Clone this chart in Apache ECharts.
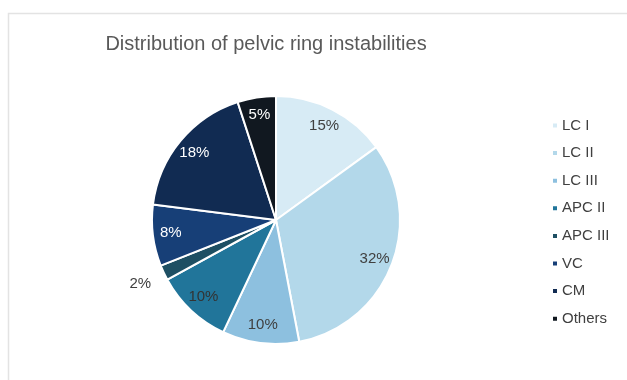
<!DOCTYPE html>
<html><head><meta charset="utf-8">
<script src="https://cdn.jsdelivr.net/npm/echarts@6/dist/echarts.min.js"></script>
<style>html,body{margin:0;padding:0;background:#fff;}#c{width:627px;height:380px;}</style>
</head><body><div id="c"></div>
<script>
const titleText = 'Distribution of pelvic ring instabilities';
const categories = ['LC I','LC II','LC III','APC II','APC III','VC','CM','Others'];
const values = [15, 32, 10, 10, 2, 8, 18, 5];
const colors = ['#d7ebf5','#b3d8ea','#8dc0df','#21759a','#1e4f63','#173f77','#112b52','#111820'];
const labelColors = ['#404040','#404040','#404040','#333333','#404040','#ffffff','#ffffff','#ffffff'];

const chart = echarts.init(document.getElementById('c'), null, {renderer:'canvas'});
const font = '"Liberation Sans", Arial, sans-serif';
const center = [276, 220];
const R = 124;

const mainData = categories.map((n,i)=>({name:n, value:values[i], itemStyle:{color:colors[i]}}));
const innerData = categories.map((n,i)=>({name:n, value:values[i],
  label:{show: values[i] >= 3, color: labelColors[i]}}));
const outerData = categories.map((n,i)=>({name:n, value:values[i],
  label:{show: values[i] < 3, color: '#404040'}}));
const legendData = categories.map((n,i)=>({name:n, itemStyle:{color:colors[i]}}));

chart.setOption({
  animation:false,
  graphic:[{type:'polyline', shape:{points:[[8.5,380],[8.5,13.5],[627,13.5]]}, style:{stroke:'#e3e3e3', lineWidth:1.5, fill:null}, silent:true}],
  title:{text:titleText, left:261, textAlign:'center', top:29,
    textStyle:{fontFamily:font, fontSize:20, fontWeight:'normal', color:'#595959'}},
  legend:{orient:'vertical', left:546, top:113, itemWidth:6, itemHeight:6, itemGap:12.6,
    icon:'rect', data:legendData, selectedMode:false,
    textStyle:{fontFamily:font, fontSize:15, color:'#404040', padding:[0,0,0,-1]}},
  series:[
    {type:'pie', center:center, radius:[0,R], startAngle:90, clockwise:true,
     label:{show:false}, labelLine:{show:false}, data:mainData, silent:true,
     itemStyle:{borderColor:'#ffffff', borderWidth:2}},
    {type:'pie', center:center, radius:[82,R], startAngle:90, clockwise:true,
     itemStyle:{color:'transparent'}, silent:true, legendHoverLink:false,
     label:{position:'inside', formatter:'{c}%', fontFamily:font, fontSize:15},
     labelLine:{show:false}, data:innerData},
    {type:'pie', center:center, radius:[130,164], startAngle:90, clockwise:true,
     itemStyle:{color:'transparent'}, silent:true, legendHoverLink:false,
     label:{position:'inside', formatter:'{c}%', fontFamily:font, fontSize:15},
     labelLine:{show:false}, data:outerData}
  ]
});
</script></body></html>
